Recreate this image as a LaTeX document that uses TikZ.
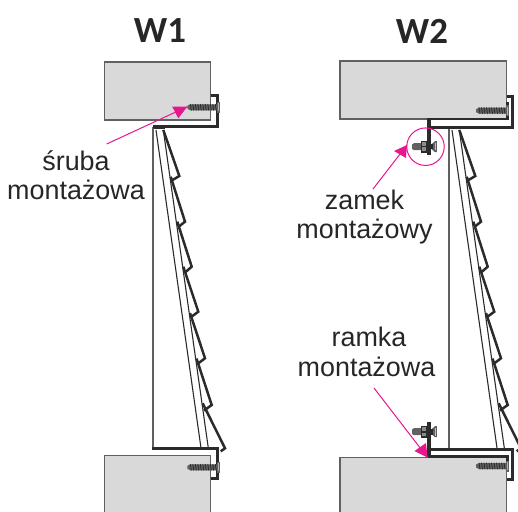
\documentclass[tikz,border=0pt]{standalone}
\usepackage{fontspec}
\setmainfont{Liberation Sans}
\newfontfamily\titlefont{Carlito}
\definecolor{mag}{HTML}{E6178C}
\definecolor{blockfill}{HTML}{D9D9D9}
\definecolor{dk}{HTML}{2B2B2B}
\definecolor{midg}{HTML}{606060}
\tikzset{
  x=1bp,y=-1bp,
  block/.style={draw=midg,fill=blockfill,line width=1.4bp},
  bracket/.style={draw=dk,line width=2.8bp,line join=miter},
  wall/.style={draw=midg,line width=2bp},
  slat/.style={draw=dk,line width=1.1bp},
  tooth/.style={draw=dk,line width=2.5bp,line join=miter},
  lblb/.style={font=\fontsize{27}{29.5}\selectfont,align=center,inner sep=0pt,text=black!85},
  ttl/.style={font=\fontsize{37}{40}\selectfont\titlefont\bfseries,inner sep=0pt,text=black!85},
  pointer/.style={draw=mag,line width=1bp},
  pointerhead/.style={fill=mag,draw=none},
  pics/woodscrew/.style={code={
    \fill[midg] (0,-1.5) -- (3,-3) -- (30,-3) -- (30,3) -- (3,3) -- (0,1.5) -- cycle;
    \foreach \t in {3,5.5,...,28}{\draw[dk,line width=0.8bp] (\t,-3.3) -- (\t+1,3.3);}
    \fill[midg] (29.5,-5.5) rectangle (33,5.5);
    \fill[black!30] (30.6,-4) rectangle (32,4);
  }},
  pics/lockbolt/.style={code={
    \fill[midg] (0,-2.2) -- (2,-3.5) -- (9,-3.5) -- (9,3.5) -- (2,3.5) -- (0,2.2) -- cycle;
    \fill[dk] (8.7,-6) rectangle (15,6);
    \fill[black!45] (10,-4.4) rectangle (14,-0.8);
    \fill[black!45] (10,0.8) rectangle (14,4.4);
    \fill[midg] (19,-2) -- (23,-5.5) -- (24.8,-5.5) -- (24.8,5.5) -- (23,5.5) -- (19,2) -- cycle;
    \fill[black!25] (23,-3.8) rectangle (24,3.8);
    \fill[dk] (15,-2.8) rectangle (21,2.8);
  }},
  pics/louvre/.style={code={
    \draw[slat] (156,130) -- (201,448);
    \draw[slat] (163.3,130) -- (208.3,448);
    \draw[dk,line width=2bp] (153.5,128) -- (165,128);
    \draw[tooth] (163.3,130) -- (179.3,176) -- (171.7,180.5);
    \draw[tooth] (170.7,176.7) -- (185,221.7) -- (178.3,227);
    \draw[tooth] (177.3,221.7) -- (191.7,266.7) -- (185,272.5);
    \draw[tooth] (183.3,266.7) -- (198.3,311.7) -- (190.7,317.3);
    \draw[tooth] (190,313) -- (205,358.3) -- (197.3,364);
    \draw[tooth] (196.5,358.5) -- (211.7,405) -- (204,410.5);
    \draw[tooth] (202.7,403.3) -- (225,448.3) -- (220.7,451.3);
  }}
}
\begin{document}
\begin{tikzpicture}
\useasboundingbox (0,0) rectangle (518,512);
% W1
\node[ttl] (t1) at (160,31) {W1};
\draw[block] (104.3,62) rectangle (210.7,120);
\path[fill=blockfill] (210.5,512.5) -- (210.5,455.3) -- (104.3,455.3) -- (104.3,512.5);
\draw[midg,line width=1.4bp] (104.3,512.5) -- (104.3,455.3) -- (210.5,455.3) -- (210.5,512.5);
\draw[wall] (153,127) -- (153,448);
\pic at (0,0) {louvre};
\draw[bracket] (210.7,95.7) -- (217.3,95.7) -- (217.3,126.3) -- (153,126.3);
\draw[bracket] (152,448.3) -- (217.3,448.3) -- (217.3,478.7) -- (210.7,478.7);
\pic at (187.3,107.3) {woodscrew};
\pic at (187.3,467.3) {woodscrew};
% W2
\node[ttl] (t2) at (422,31) {W2};
\draw[block] (340,61) rectangle (506.7,119);
\path[fill=blockfill] (506.7,512.5) -- (506.7,457.3) -- (340,457.3) -- (340,512.5);
\draw[midg,line width=1.4bp] (340,512.5) -- (340,457.3) -- (506.7,457.3) -- (506.7,512.5);
\draw[wall] (449,127) -- (449,449);
\pic at (296,0) {louvre};
\draw[bracket] (507.3,102) -- (507.3,119) -- (428,119) -- (428,127.7) -- (512.7,127.7) -- (512.7,96.7) -- (506.7,96.7);
\draw[bracket,line width=4bp] (429.3,120) -- (429.3,155);
\draw[bracket,line width=4bp] (429.3,421.7) -- (429.3,456);
\draw[bracket] (428,449.3) -- (512.7,449.3) -- (512.7,479.3) -- (506.7,479.3);
\draw[bracket] (428,449.3) -- (428,456.7) -- (507.3,456.7) -- (507.3,470);
\pic at (476,110.7) {woodscrew};
\pic at (476,466) {woodscrew};
\pic at (412,146.7) {lockbolt};
\pic at (412,431.7) {lockbolt};
% circle
\node[draw=mag,line width=1bp,circle,minimum size=37.5bp,inner sep=0pt] (ring) at (425.5,146.7) {};
% labels
\node[lblb] (l1) at (76,175) {śruba\\montażowa};
\node[lblb] (l2) at (364.5,217) {zamek\\montażowy};
\node[lblb] (l3) at (366.5,352) {\hspace*{5bp}ramka\\montażowa};
% pointers
\coordinate (a1s) at (106.7,144); \coordinate (a1t) at (187.3,106.7);
\draw[pointer] (a1s) -- (a1t);
\fill[pointerhead] (a1t) -- (172.3,106.7) -- (178.3,118.3) -- cycle;
\coordinate (a2s) at (373,189); \coordinate (a2t) at (407,145);
\draw[pointer] (a2s) -- (a2t);
\fill[pointerhead] (a2t) -- (394,151) -- (406,158) -- cycle;
\coordinate (a3s) at (374,388); \coordinate (a3t) at (427.5,457.5);
\draw[pointer] (a3s) -- (a3t);
\fill[pointerhead] (a3t) -- (414.5,451) -- (426,443) -- cycle;
\end{tikzpicture}
\end{document}
